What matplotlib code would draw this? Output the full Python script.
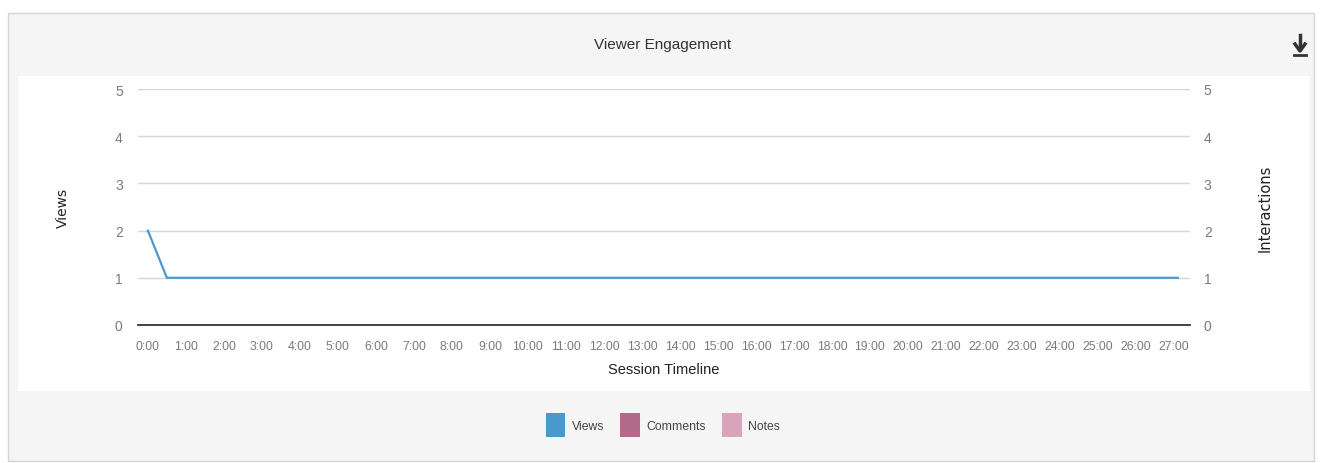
import matplotlib
matplotlib.use("Agg")
import matplotlib.pyplot as plt
from matplotlib.patches import Rectangle, Patch
from matplotlib.lines import Line2D

# data (minutes into the session)
minutes = [0, 0.5, 27.1]
views = [2, 1, 1]
tick_minutes = list(range(0, 28))
tick_labels = ["%d:00" % m for m in tick_minutes]
legend_names = ["Views", "Comments", "Notes"]
legend_colors = ["#4a98d0", "#b36b8c", "#d9a3ba"]

narrow = ["Liberation Sans", "DejaVu Sans"]
W, H = 1322, 464

fig = plt.figure(figsize=(W / 100, H / 100), dpi=100)
fig.patch.set_facecolor("white")

# outer grey panel and inner white plot area
fig.patches.append(Rectangle((8 / W, 2 / H), 1306 / W, 448 / H, transform=fig.transFigure,
                             facecolor="#f5f5f5", edgecolor="#d6d6d6", lw=1, zorder=-3))
fig.patches.append(Rectangle((18 / W, 72 / H), 1292 / W, 315 / H, transform=fig.transFigure,
                             facecolor="white", edgecolor="none", zorder=-2))

ax = fig.add_axes([138 / W, 138 / H, 1052 / W, 236 / H])
ax.set_facecolor("none")
ax.plot(minutes, views, color="#4a98d0", lw=1.6, zorder=3)
ax.set_xlim(-0.26, 27.42)
ax.set_ylim(0, 5)
ax.set_yticks(range(6))
ax.set_xticks(tick_minutes)
ax.set_xticklabels(tick_labels, family=narrow, fontsize=8.8, color="#7a7a7a")
for lab in ax.get_yticklabels():
    lab.set_family(narrow)
    lab.set_fontsize(10)
    lab.set_color("#7a7a7a")
ax.grid(axis="y", color="#d6d6d6", lw=1)
ax.set_axisbelow(True)
for s in ["top", "left", "right"]:
    ax.spines[s].set_visible(False)
ax.spines["bottom"].set_color("#333333")
ax.spines["bottom"].set_linewidth(1.3)
ax.tick_params(length=0, pad=11)
ax.tick_params(axis="x", pad=11)
ax.set_xlabel("Session Timeline", family=narrow, fontsize=10.5, color="#222222", labelpad=7)
ax.set_ylabel("Views", fontsize=10, color="#222222")
ax.yaxis.set_label_coords(-68 / 1052, 0.5)

ax2 = ax.twinx()
ax2.set_ylim(0, 5)
ax2.set_yticks(range(6))
for lab in ax2.get_yticklabels():
    lab.set_family(narrow)
    lab.set_fontsize(10)
    lab.set_color("#7a7a7a")
for s in ax2.spines.values():
    s.set_visible(False)
ax2.tick_params(length=0, pad=10)
ax2.set_ylabel("Interactions", fontsize=10.5, color="#222222")
ax2.yaxis.set_label_coords(1 + 68 / 1052, 0.5)

fig.text(663 / W, 1 - 45 / H, "Viewer Engagement", family=narrow, fontsize=11,
         color="#333333", ha="center", va="center")

# download icon
fig.add_artist(Line2D([1294 / W, 1306 / W], [1 - 56 / H] * 2, color="#333333", lw=2))
fig.add_artist(Line2D([1300 / W, 1300 / W], [1 - 36 / H, 1 - 47 / H], color="#333333", lw=2.5))
fig.add_artist(Line2D([1295 / W, 1300 / W, 1305 / W], [1 - 45 / H, 1 - 52 / H, 1 - 45 / H],
                      color="#333333", lw=2.5))

handles = [Patch(facecolor=c, edgecolor="none") for c in legend_colors]
leg = fig.legend(handles, legend_names, loc="center", bbox_to_anchor=(663 / W, 1 - 426 / H),
                 ncol=3, frameon=False, handlelength=1.6, handleheight=2.6,
                 handletextpad=0.55, columnspacing=1.3, prop={"family": narrow, "size": 8.8})
for t in leg.get_texts():
    t.set_color("#444444")

fig.savefig("out.png", dpi=100)
